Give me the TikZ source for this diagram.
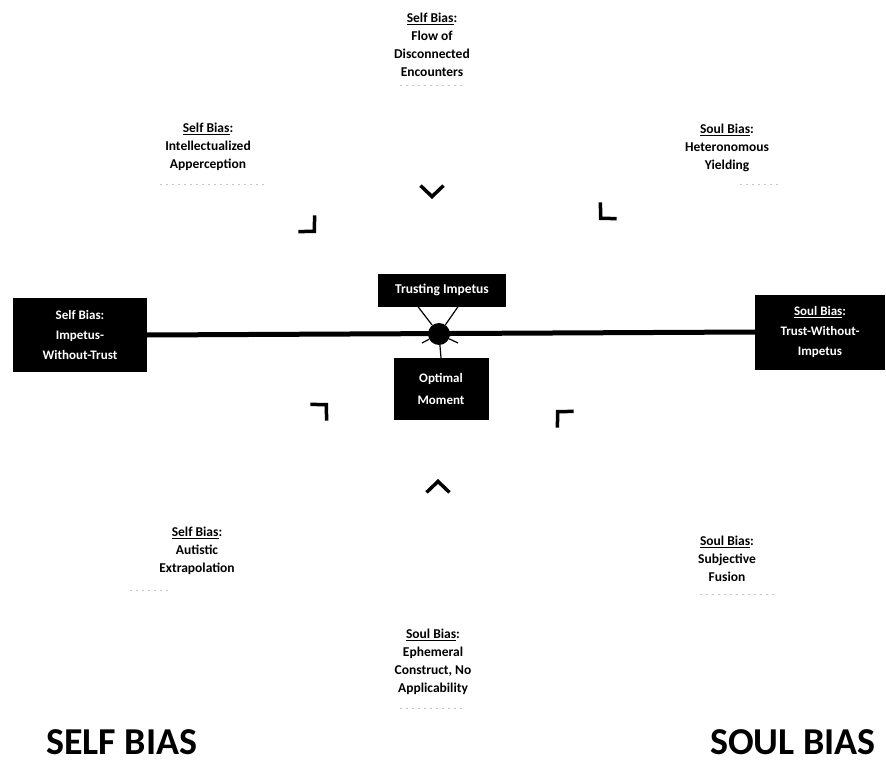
\documentclass[tikz,border=0pt]{standalone}
\usepackage{fontspec}
\setmainfont{Carlito}
\usetikzlibrary{arrows.meta,positioning,calc}
\tikzset{font=\bfseries\fontsize{13.5}{18}\selectfont}
\tikzset{bias/.style={align=center,inner sep=0pt},
  darkbox/.style={fill=black,text=white,align=center,inner sep=0pt},
  chev/.style={white,line width=.5pt,-{Straight Barb[color=black,length=11pt,width=23pt,line width=3.5pt]}},
  trace/.style={gray!45,dash pattern=on 2pt off 4pt,line width=1pt},
  spike/.style={black,line width=1.2pt},
  bigbias/.style={inner sep=0pt,font=\bfseries\fontsize{38}{40}\selectfont}}

\begin{document}
\begin{tikzpicture}[x=1pt,y=-1pt]
  \useasboundingbox[fill=white] (0,0) rectangle (886,770);
  % the six outer labels
  \node[bias] (flow) at (432,45) {\underline{Self Bias}:\\Flow of\\Disconnected\\Encounters};
  \node[bias] (intel) at (208,147) {\underline{Self Bias}:\\Intellectualized\\Apperception};
  \node[bias] (hetero) at (727,148) {\underline{Soul Bias}:\\Heteronomous\\Yielding};
  \node[bias] (autistic) at (197,551) {\underline{Self Bias}:\\Autistic\\Extrapolation};
  \node[bias] (fusion) at (727,559) {\underline{Soul Bias}:\\Subjective\\Fusion};
  \node[bias] (ephem) at (433,662) {\underline{Soul Bias}:\\Ephemeral\\Construct, No\\Applicability};
  \draw[trace] (400,86) -- (466,86);
  \draw[trace] (160,185) -- (265,185);
  \draw[trace] (740,185) -- (780,185);
  \draw[trace] (130,590) -- (170,590);
  \draw[trace] (700,594) -- (775,594);
  \draw[trace] (400,708) -- (466,708);
  % black boxes
  \node[darkbox,minimum width=134pt,minimum height=74pt,font=\bfseries\fontsize{13}{20}\selectfont] (impetus) at (80,335) {Self Bias:\\Impetus-\\Without-Trust};
  \node[darkbox,minimum width=130pt,minimum height=75pt,font=\bfseries\fontsize{13}{20}\selectfont] (trust) at (820,332) {\underline{Soul Bias}:\\Trust-Without-\\Impetus};
  \node[darkbox,minimum width=128pt,minimum height=33pt] (ti) at (442,290) {Trusting Impetus};
  \node[darkbox,minimum width=95pt,minimum height=62pt,font=\bfseries\fontsize{13}{22}\selectfont] (opt) at (441,389) {Optimal\\Moment};
  % axis and hub
  \draw[line width=5pt] (impetus.east) -- (trust.west);
  \node[circle,fill=black,inner sep=0pt,minimum size=22pt] (hub) at (439,334) {};
  \draw[spike] ($(ti.south)+(-24,0)$) -- (hub) -- ($(ti.south)+(16,0)$);
  \draw[spike] ($(hub)+(-17,9)$) -- (hub) -- ($(hub)+(19,9)$);
  \draw[spike] (hub) -- (opt.north);
  % chevrons pointing at the centre
  \coordinate (cT) at (432,199);
  \coordinate (cTL) at (316,233);
  \coordinate (cTR) at (599,220);
  \coordinate (cBL) at (328,403);
  \coordinate (cBR) at (556,410);
  \coordinate (cB) at (438,479);
  \draw[chev] ($(cT)+(0,-30)$) -- (cT);
  \draw[chev] ($(cTL)+(-30,-30)$) -- (cTL);
  \draw[chev] ($(cTR)+(30,-30)$) -- (cTR);
  \draw[chev] ($(cBL)+(-30,30)$) -- (cBL);
  \draw[chev] ($(cBR)+(30,30)$) -- (cBR);
  \draw[chev] ($(cB)+(0,30)$) -- (cB);
  % the two sides
  \node[bigbias,anchor=west] (selfside) at (46,742) {SELF BIAS};
  \node[bigbias,anchor=east] (soulside) at (876,742) {SOUL BIAS};
\end{tikzpicture}
\end{document}
